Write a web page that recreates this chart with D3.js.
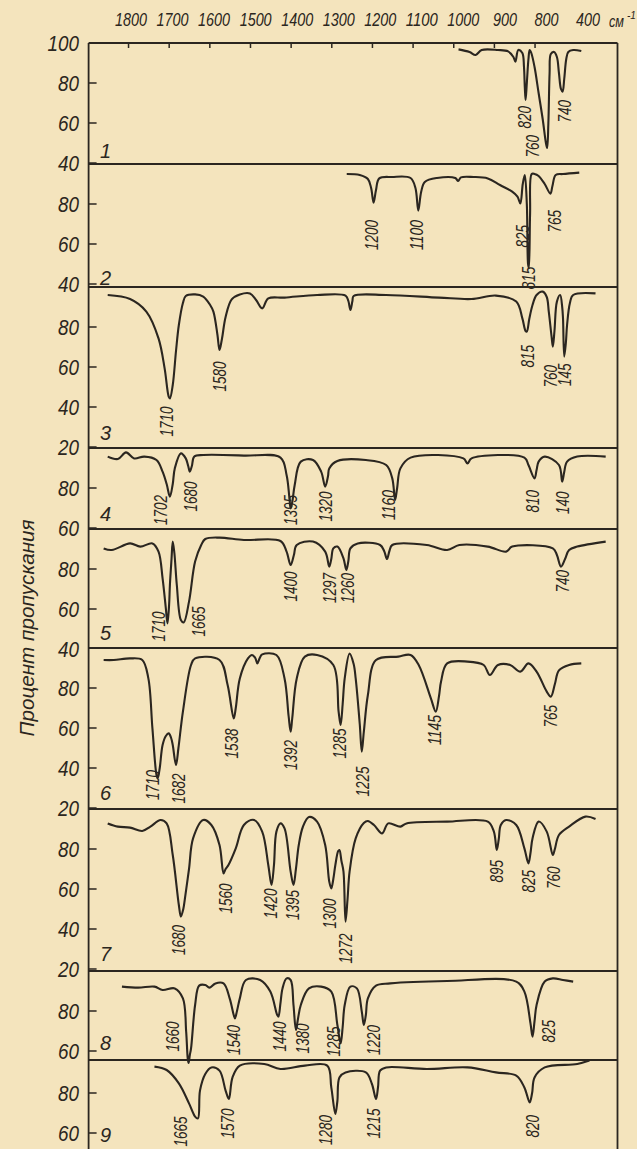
<!DOCTYPE html>
<html>
<head>
<meta charset="utf-8">
<script src="https://cdn.jsdelivr.net/npm/d3@7"></script>
<style>
  html, body { margin: 0; padding: 0; background: #f4e4bd; overflow: hidden; }
  svg { display: block; }
  .nar { font-family: "Liberation Sans", Arial, sans-serif; font-style: italic; fill: #2b2620; }
  .reg { font-family: "Liberation Sans", "DejaVu Sans", sans-serif; font-style: italic; fill: #2b2620; }
</style>
</head>
<body>
<svg id="chart" width="637" height="1149"></svg>
<script>
/* ── IR SPECTRA 1–9, TRANSMITTANCE vs WAVENUMBER ─────────────────────
   Values: [wavenumber, % transmittance]
────────────────────────────────────────────────────────────────────── */

const topLabels = ['1800','1700','1600','1500','1400','1300','1200','1100','1000','900','800','400'];
const topTicks = [1800, 1700, 1600, 1500, 1400, 1300, 1200, 1100, 1000, 900, 800];
const yTicks = [[100,80,60,40],[80,60,40],[80,60,40,20],[80,60],[80,60,40],[80,60,40,20],[80,60,40,20],[80,60],[80,60]];
const panelNames = ['1','2','3','4','5','6','7','8','9'];

const spec1 = [[987,96.8],[960,95.5],[945,94],[930,96.5],[890,96.5],[865,95.8],[852,93],[847,90.7],[840,96.5],[830,95],[826,88],[824,78],[822,71.5],[819,80],[815,92],[812,96.5],[808,95],[800,88],[790,75],[780,62],[772,50],[769,47.5],[766,60],[763,85],[760,94.5],[752,95.5],[745,93],[740,85],[735,77],[731,75.7],[727,82],[722,92],[717,95.5],[705,96.5],[685,96]];
const spec2 = [[1262,95],[1230,94.5],[1210,92.5],[1202,88],[1196,80.7],[1190,87],[1182,92.8],[1150,93.5],[1105,93],[1093,88],[1086,76.7],[1079,86],[1070,91],[1040,93],[995,93],[988,91.5],[981,93.3],[950,93.5],[915,92.8],[885,89.5],[855,86.2],[842,83.7],[835,80.3],[829,90],[824,94.5],[819,80],[816,50],[814,48],[811,75],[807,95],[800,95],[790,94],[775,90],[761,85.2],[756,89],[748,94.5],[730,95],[690,95.7]];
const spec3 = [[1850,96],[1795,94],[1755,87.7],[1725,74.3],[1710,59.3],[1700,45.2],[1697,44.3],[1690,51],[1682,68],[1675,81],[1665,92],[1658,95.5],[1635,96.3],[1615,95.2],[1598,91],[1590,87.7],[1580,76],[1575,68.5],[1569,74],[1560,85],[1545,93.8],[1525,96.3],[1500,96.8],[1485,93.5],[1470,89.3],[1455,94.3],[1415,94.7],[1335,96],[1265,95.7],[1258,93],[1253,88.5],[1248,93],[1245,95.5],[1165,96],[1035,94.7],[955,94],[895,95.7],[845,92.7],[830,84.3],[822,78],[819,77.7],[813,84],[805,91],[795,96],[780,97.7],[770,95],[765,87.7],[758,75],[755,70.2],[751,78],[745,92.7],[737,96],[732,90],[730,84.3],[727,65.2],[723,72],[720,81],[713,92],[705,96],[650,96.8]];
const spec4 = [[1850,95.7],[1825,94.5],[1805,97.8],[1785,94.8],[1760,95.7],[1730,94],[1715,88.2],[1705,82],[1697,75.7],[1690,82],[1685,89.8],[1670,97.3],[1658,94.8],[1652,91],[1648,88.2],[1643,91],[1637,95.7],[1615,96.5],[1515,96.2],[1425,95.2],[1410,86.5],[1403,75],[1400,69.8],[1396,73],[1390,81.5],[1375,93.2],[1345,94],[1325,88.2],[1315,80.7],[1308,86],[1305,89.8],[1285,93.5],[1215,94],[1165,91.5],[1150,84.8],[1143,74],[1138,80],[1130,89.8],[1105,95.2],[975,94.8],[965,92.3],[955,94.8],[825,95.2],[815,91.5],[800,84.8],[795,89],[790,93.2],[775,95.7],[740,91.5],[732,83.2],[727,88],[720,93.2],[695,95.7],[625,95.7]];
const spec5 = [[1860,90.3],[1840,89.5],[1795,92.8],[1770,91.2],[1740,92.8],[1725,88.7],[1715,75.3],[1707,60.3],[1703,52.8],[1699,62],[1697,72],[1693,85],[1690,93.7],[1686,88],[1680,72],[1670,54.5],[1663,53.3],[1650,63.7],[1635,83.7],[1620,92],[1610,95],[1575,95.7],[1515,94.5],[1425,94],[1410,88.7],[1400,82],[1392,87],[1385,92],[1345,93.7],[1315,88.7],[1305,81.2],[1300,85],[1295,90.3],[1285,91.2],[1270,85.3],[1263,79.5],[1258,84],[1253,90.3],[1235,92.8],[1180,92],[1170,89],[1163,85],[1157,89],[1150,92],[1065,92],[1015,89.5],[985,92],[915,91.2],[870,88.7],[855,91.2],[755,90.3],[745,87],[735,81.2],[725,85],[715,89.5],[695,91.2],[625,93.7]];
const spec6 = [[1860,94],[1835,94],[1795,94.8],[1765,94],[1750,84.8],[1740,59.8],[1730,36.5],[1727,34.8],[1722,40],[1715,51.5],[1707,56],[1700,57.3],[1694,55],[1690,51.5],[1682,41.5],[1676,50],[1665,68.2],[1645,91.5],[1635,94.8],[1575,94],[1555,81.5],[1540,64.8],[1535,70],[1525,84.8],[1505,94.8],[1495,96.5],[1487,95],[1482,92.3],[1476,95],[1470,96.8],[1435,96.5],[1415,84.8],[1405,66],[1400,58.2],[1396,65],[1385,84.8],[1365,95.7],[1335,96.5],[1295,91.5],[1282,68.2],[1277,61.5],[1272,72],[1267,84.8],[1255,97.2],[1245,92],[1240,84.8],[1230,62],[1225,48.2],[1220,58],[1210,76.5],[1190,94],[1135,95.7],[1105,96.5],[1085,91.5],[1055,74.8],[1043,68.2],[1035,76],[1030,83.2],[1015,92.3],[965,93.2],[925,91.5],[910,86.5],[890,91.5],[860,91.5],[835,88.2],[815,92.3],[795,88.2],[770,78.2],[760,75.7],[750,82],[740,88.8],[715,91.5],[685,92.3]];
const spec7 = [[1850,92.8],[1825,91.2],[1795,90.7],[1765,89],[1745,91.2],[1720,94.5],[1705,92.8],[1690,77],[1675,52],[1670,46.2],[1664,50],[1660,55.3],[1650,70],[1640,85.3],[1615,94.5],[1595,92],[1575,82],[1565,67.8],[1560,70],[1553,72],[1535,80.3],[1515,92],[1490,94.5],[1470,88.7],[1455,72],[1447,62],[1441,72],[1435,88.7],[1425,92.8],[1415,90.3],[1400,68.7],[1393,62],[1387,70],[1380,82],[1370,91],[1355,96],[1335,93.7],[1315,82],[1305,63.7],[1300,60.3],[1295,65],[1290,72],[1283,79],[1280,79.5],[1275,74],[1270,68.7],[1265,43.7],[1260,55],[1255,68.7],[1240,85.3],[1220,93],[1210,94],[1195,92],[1175,87.8],[1160,92.8],[1130,91.2],[1115,92.8],[1015,93.7],[915,93.7],[900,88.7],[893,79.5],[888,85],[883,92],[870,94.5],[845,92],[825,80.3],[815,72.8],[810,78],[805,85.3],[790,93.7],[770,88.7],[755,77],[750,80],[740,87],[715,91.2],[675,96.2],[650,95]];
const spec8 = [[1815,92.2],[1775,91.7],[1735,92.2],[1715,90.5],[1685,91.3],[1665,86.3],[1657,69.7],[1653,56],[1651,54],[1648,58],[1645,61.3],[1635,83],[1625,92.7],[1610,93],[1600,91.7],[1585,93.8],[1565,93.8],[1550,86.3],[1540,78],[1537,76.3],[1532,80],[1525,86.3],[1510,95.5],[1475,95.5],[1450,89.7],[1433,78],[1430,77.2],[1425,84],[1420,91.3],[1410,96.3],[1400,95.5],[1393,83],[1387,70.5],[1382,76],[1375,83],[1355,91.3],[1325,92.2],[1300,89.7],[1285,73],[1277,63.8],[1272,72],[1267,83],[1253,92.2],[1237,91.3],[1225,79.7],[1220,73],[1215,78],[1210,86.3],[1190,92.7],[1155,93.8],[1015,95],[845,94.7],[825,89.7],[810,73.8],[805,67.2],[800,75],[795,83],[775,94.7],[755,96.3],[730,95.5],[705,94.7]];
const spec9 = [[1735,93.2],[1705,91.5],[1675,84.8],[1650,74.8],[1635,68.2],[1628,67.3],[1623,81.2],[1610,89.5],[1595,92.8],[1575,91.2],[1560,81.2],[1552,77],[1543,87.8],[1525,93.7],[1465,94.5],[1425,92],[1365,93.7],[1310,93.7],[1300,82.8],[1290,69.5],[1285,76],[1280,87.8],[1265,90.3],[1215,90.3],[1200,84.5],[1190,77],[1185,83],[1180,91.2],[1165,92.8],[1065,92],[965,92.8],[895,90.3],[845,88.7],[825,82.8],[812,75.3],[806,80],[800,87.8],[775,92.8],[695,94.5],[665,96.2]];

// peak labels: [printed text, wavenumber, transmittance at top of label]
const lab1 = [['820',825,68.5],['760',804,54],['740',725,71.5]];
const lab2 = [['1200',1200,72],['1100',1090,72],['825',828,69.5],['815',815,48.6],['765',750,77]];
const lab3 = [['1710',1705,40.2],['1580',1575,62.7],['815',818,71],['760',760,61],['145',725,61.8]];
const lab4 = [['1702',1720,76.5],['1680',1647,83.2],['1395',1400,76.5],['1320',1315,78.2],['1160',1160,79],['810',805,79],['140',730,78.2]];
const lab5 = [['1710',1725,58.7],['1665',1625,61.2],['1400',1400,78.7],['1297',1305,78],['1260',1260,78],['740',730,79.5]];
const lab6 = [['1710',1740,39],['1682',1675,37.3],['1538',1545,59.8],['1392',1400,54],['1285',1280,59.8],['1225',1223,40.7],['1145',1045,66.5],['765',760,71.5]];
const lab7 = [['1680',1675,42],['1560',1560,62.8],['1420',1450,60.3],['1395',1395,59.5],['1300',1303,55.3],['1272',1265,37.8],['895',893,74.5],['825',815,69.5],['760',753,71.2]];
const lab8 = [['1660',1690,74.7],['1540',1540,73],['1440',1427,74.7],['1380',1370,73.8],['1285',1295,72.2],['1220',1195,73],['825',765,75.5]];
const lab9 = [['1665',1670,68.2],['1570',1555,72.3],['1280',1315,69],['1215',1195,72.3],['820',805,69]];

const spectra = [spec1, spec2, spec3, spec4, spec5, spec6, spec7, spec8, spec9];
const labels = [lab1, lab2, lab3, lab4, lab5, lab6, lab7, lab8, lab9];

/* ── layout ── */
const W = 637, H = 1149;
const ink = '#2b2620';
const frameL = 88.6, frameR = 617.5, frameT = 43;
const seps = [43, 164, 287, 448, 529, 648, 809, 971, 1060, 1149];   // panel borders (px)
const panelTop = [100, 100, 100, 100, 100, 100, 100, 100, 96.5];   // % at panel top
const numberY = [158, 285, 440, 521, 640, 800, 961, 1050, 1142];

// condensed lettering: fixed advance per character
const squeeze = (sel, perChar) => sel
  .attr('textLength', d => String(Array.isArray(d) ? d[0] : d).length * perChar)
  .attr('lengthAdjust', 'spacingAndGlyphs');

const svg = d3.select('#chart');
svg.append('rect').attr('width', W).attr('height', H).attr('fill', '#f4e4bd');

const x = d3.scaleLinear().domain([1897, 593]).range([frameL, 618.7]);
const xLab = d3.scalePoint().domain(topLabels).range([131, 588]);

const yScales = panelTop.map((t, i) =>
  d3.scaleLinear().domain([t, t - (seps[i + 1] - seps[i]) / 2]).range([seps[i], seps[i + 1]]));

// Frame and panel separators
const frame = svg.append('g').attr('stroke', ink).attr('stroke-width', 1.8).attr('fill', 'none');
frame.append('line').attr('x1', frameL).attr('x2', frameL).attr('y1', frameT).attr('y2', H);
frame.append('line').attr('x1', frameR).attr('x2', frameR).attr('y1', frameT).attr('y2', H);
frame.selectAll('line.sep').data(seps.slice(0, -1)).enter().append('line').attr('class', 'sep')
  .attr('x1', frameL).attr('x2', frameR).attr('y1', d => d).attr('y2', d => d);

// Top axis: ticks pointing into the plot
const ax = svg.append('g').attr('transform', `translate(0,${frameT})`)
  .call(d3.axisBottom(x).tickValues(topTicks).tickSize(5).tickFormat(''));
ax.select('.domain').remove();
ax.selectAll('line').attr('stroke', ink).attr('stroke-width', 1.5);

svg.append('g').selectAll('text').data(topLabels).enter().append('text')
  .attr('class', 'nar').attr('x', d => xLab(d)).attr('y', 26)
  .attr('text-anchor', 'middle').attr('font-size', 18).text(d => d)
  .call(squeeze, 8);

// unit: "см" with a small raised "-1"
svg.append('text').attr('class', 'nar').attr('x', 609).attr('y', 27).attr('font-size', 17)
  .attr('textLength', 15).attr('lengthAdjust', 'spacingAndGlyphs').text('см');
svg.append('text').attr('class', 'nar').attr('x', 627).attr('y', 19).attr('font-size', 10)
  .text('-1');

// Y axis ticks and labels per panel
yScales.forEach((y, i) => {
  const [hi, lo] = y.domain();
  const g = svg.append('g');
  g.selectAll('line').data(yTicks[i].filter(v => v < hi && v > lo)).enter().append('line')
    .attr('x1', frameL).attr('x2', frameL + 8)
    .attr('y1', d => y(d)).attr('y2', d => y(d))
    .attr('stroke', ink).attr('stroke-width', 1.5);
  g.selectAll('text').data(yTicks[i]).enter().append('text')
    .attr('class', 'nar').attr('x', 79).attr('y', d => y(Math.min(d, hi)))
    .attr('dy', '0.36em').attr('text-anchor', 'end').attr('font-size', 22)
    .text(d => d)
    .call(squeeze, 10.5);
});

// Spectra
spectra.forEach((data, i) => {
  const y = yScales[i];
  const line = d3.line().x(d => x(d[0])).y(d => y(d[1])).curve(d3.curveCatmullRom.alpha(0.5));
  svg.append('path').datum(data).attr('d', line)
    .attr('fill', 'none').attr('stroke', ink).attr('stroke-width', 2.1)
    .attr('stroke-linejoin', 'round');
});

// Peak labels (vertical, read bottom-up)
labels.forEach((list, i) => {
  const y = yScales[i];
  svg.append('g').selectAll('text').data(list).enter().append('text')
    .attr('class', 'nar').attr('font-size', 17.5)
    .attr('text-anchor', 'end').attr('dy', '0.36em')
    .attr('transform', d => `translate(${x(d[1])},${y(d[2])}) rotate(-90)`)
    .text(d => d[0])
    .call(squeeze, 7.5);
});

// Panel numbers
svg.append('g').selectAll('text').data(panelNames).enter().append('text')
  .attr('class', 'nar').attr('x', 100).attr('y', (d, i) => numberY[i])
  .attr('font-size', 20).text(d => d);

// Axis title
svg.append('text').attr('class', 'reg')
  .attr('transform', 'translate(34,628) rotate(-90)')
  .attr('text-anchor', 'middle').attr('font-size', 20)
  .attr('textLength', 217).attr('lengthAdjust', 'spacingAndGlyphs')
  .text('Процент пропускания');
</script>
</body>
</html>
